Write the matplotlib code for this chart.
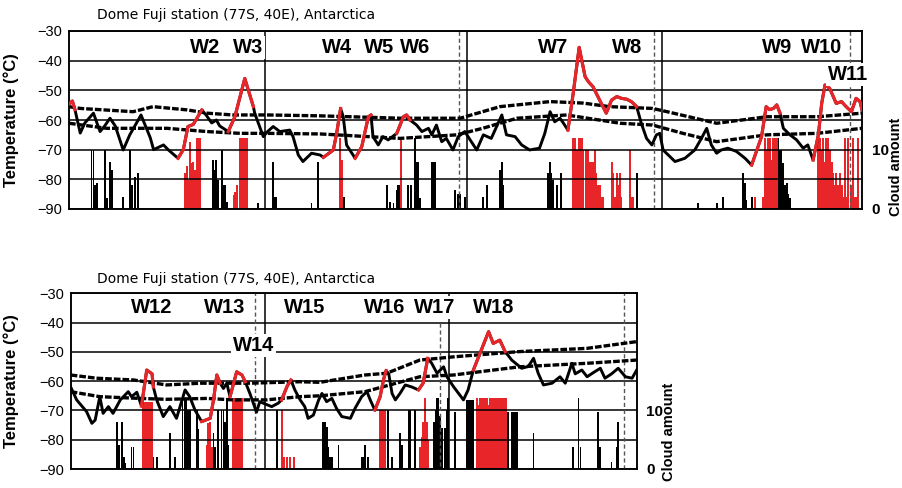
import numpy as np
import matplotlib.pyplot as plt

plt.rcParams['font.family'] = ['Liberation Sans', 'DejaVu Sans']

RED = '#e8262a'

# ---------------- painel superior ----------------
t1_day = [0.0, 0.5, 0.9, 1.7, 2.4, 3.7, 4.7, 5.4, 6.2, 7.0, 8.2, 9.2, 10.9, 12.3, 12.8, 14.3, 15.0,
          16.5, 17.3, 18.0, 18.8, 20.1, 20.8, 21.6, 22.3, 22.8, 24.1, 25.1, 26.6, 27.9, 28.1, 29.4,
          30.0, 30.9, 31.9, 33.4, 33.9, 34.7, 35.4, 36.7, 38.0, 38.5, 40.0, 40.5, 41.1, 41.5, 42.0,
          43.3, 44.3, 45.3, 45.7, 46.0, 46.8, 47.5, 48.3, 49.6, 50.6, 51.1, 51.6, 52.6, 53.4, 54.4,
          54.9, 55.6, 56.4, 57.1, 58.1, 58.9, 59.9, 60.7, 61.7, 62.7, 63.9, 65.5, 66.2, 67.5, 68.5,
          69.7, 71.2, 72.0, 72.8, 73.5, 74.3, 74.8, 75.5, 76.3, 77.2, 78.1, 78.6, 79.3, 80.3, 81.3,
          82.1, 82.9, 83.6, 84.4, 85.1, 85.9, 86.6, 87.4, 88.2, 88.9, 89.4, 89.9, 91.7, 93.2, 94.7,
          95.7, 96.5, 97.2, 98.0, 98.7, 99.7, 101.0, 102.3, 103.3, 104.8, 105.5, 106.0, 106.6, 107.1,
          107.6, 108.1, 109.1, 110.1, 111.1, 111.8, 112.6, 113.4, 113.9, 114.4, 115.1, 116.1, 116.9,
          117.6, 118.4, 119.1, 119.7, 120.0]
t1_temp = [-54.6, -53.6, -56.5, -64.4, -61.0, -57.7, -63.9, -62.0, -59.4, -62.0, -70.1, -65.0, -58.3,
           -66.0, -70.0, -68.4, -70.0, -72.9, -70.0, -62.2, -61.5, -56.6, -58.5, -61.0, -60.0, -62.0,
           -63.9, -58.9, -46.0, -55.5, -57.7, -65.6, -64.0, -62.2, -63.9, -63.4, -65.6, -71.8, -74.0,
           -71.2, -71.8, -72.6, -70.1, -64.5, -56.1, -58.9, -68.4, -72.9, -69.0, -58.9, -58.3, -65.6,
           -68.4, -65.6, -66.7, -64.5, -58.9, -58.3, -60.0, -61.7, -63.9, -62.8, -65.0, -61.7, -67.3,
           -66.2, -70.1, -65.6, -63.9, -66.7, -70.1, -65.0, -66.2, -58.3, -65.0, -65.6, -68.4, -70.1,
           -69.5, -64.5, -57.2, -60.6, -59.4, -61.0, -63.4, -51.0, -35.5, -45.4, -47.1, -48.8, -53.3,
           -57.7, -53.3, -52.1, -52.7, -53.0, -53.8, -55.5, -61.1, -66.2, -68.4, -65.0, -64.5, -70.1,
           -74.0, -72.9, -70.1, -66.2, -62.8, -68.4, -71.2, -70.1, -69.5, -70.6, -72.9, -75.2, -65.6,
           -55.5, -56.5, -56.1, -54.9, -57.7, -62.8, -65.0, -66.7, -69.5, -68.4, -73.5, -65.0, -54.4,
           -48.2, -49.3, -54.4, -53.8, -55.5, -57.2, -52.7, -53.8, -56.6]
red1 = [(0, 0.9), (16.5, 20.1), (24.1, 27.95), (38.5, 41.1), (43.3, 45.7), (49.6, 51.6),
        (75.5, 85.9), (103.3, 107.6), (112.6, 120)]

hi1_day = [0, 1.7, 9.7, 12.7, 17.9, 20.9, 24.8, 30.0, 38.0, 50.1, 59.2, 65.2, 72.8, 77.8, 81.8,
           88.3, 90.5, 98.0, 105.6, 113.2, 120]
hi1_temp = [-55.5, -56.1, -57.2, -55.5, -56.6, -57.7, -58.3, -58.3, -58.6, -59.4, -59.4, -55.5,
            -53.8, -54.3, -55.5, -56.1, -57.2, -61.1, -58.9, -58.9, -57.7]
lo1_day = [0, 5.7, 10.7, 14.8, 20.9, 25.9, 30.0, 38.0, 50.1, 58.7, 62.6, 67.8, 75.3, 83.4, 88.3,
           92.9, 98.0, 105.6, 113.2, 120]
lo1_temp = [-61.1, -62.8, -62.8, -62.8, -63.9, -64.5, -64.5, -64.7, -66.2, -65.0, -62.8, -59.4,
            -58.3, -61.1, -61.7, -64.5, -67.3, -65.0, -64.5, -62.8]

cb1_day = [3.4, 3.7, 3.9, 4.2, 5.4, 5.7, 6.2, 6.5, 8.2, 9.2, 9.5, 10.0, 10.5, 21.8, 22.1, 22.3, 22.6,
           23.1, 23.3, 23.6, 23.9, 28.6, 30.9, 31.2, 31.4, 36.7, 37.7, 41.6, 48.1, 48.6, 49.1, 49.6,
           49.8, 50.1, 51.3, 51.8, 52.3, 52.6, 52.8, 53.1, 54.9, 55.1, 55.4, 58.4, 58.9, 59.2, 59.9,
           62.7, 63.2, 65.2, 65.5, 65.7, 72.5, 72.8, 73.0, 73.3, 73.8, 74.5, 85.9, 95.2, 98.0, 99.0,
           102.0, 102.3, 102.5, 103.3, 107.3, 107.6, 107.8, 108.1, 108.3, 108.6, 108.8, 109.1]
cb1_val = [9.9, 9.9, 4.0, 4.3, 9.9, 1.8, 8.0, 6.6, 2.1, 9.9, 4.0, 5.4, 6.0, 8.3, 6.6, 8.3, 4.9,
           9.9, 4.0, 4.0, 1.2, 1.0, 8.0, 2.1, 2.1, 1.0, 8.0, 2.1, 4.0, 1.2, 1.0, 3.2,
           4.0, 4.0, 4.0, 4.0, 11.9, 8.0, 8.0, 1.8, 8.0, 8.0, 8.0, 3.2, 2.6, 2.6, 2.1,
           2.1, 4.0, 6.6, 8.0, 4.0, 6.0, 8.0, 6.0, 4.9, 4.0, 6.0, 6.0, 1.0, 1.0, 2.1,
           6.0, 4.3, 1.5, 2.1, 11.9, 9.9, 9.9, 7.7, 4.0, 4.3, 2.6, 1.8]
cr1_day = [17.5, 17.8, 18.0, 18.3, 18.6, 18.8, 19.1, 19.3, 19.6, 19.8, 24.9, 25.1, 25.4, 25.9, 26.1,
           26.4, 26.6, 26.9, 27.0, 41.0, 41.3, 50.3, 76.3, 76.6, 76.8, 77.1, 77.3, 77.6, 77.8, 78.3,
           78.6, 78.8, 79.1, 79.3, 79.6, 79.8, 80.1, 80.3, 80.6, 80.8, 82.1, 82.3, 82.6, 82.9, 83.1,
           83.4, 83.6, 84.9, 85.1, 85.4, 103.8, 105.0, 105.3, 105.5, 105.8, 106.1, 106.3, 106.6,
           106.8, 107.1, 113.4, 113.6, 113.9, 114.1, 114.4, 114.6, 114.9, 115.1, 115.4, 115.6, 115.9,
           116.1, 116.4, 116.6, 116.9, 117.1, 117.4, 117.6, 117.9, 118.4, 118.7, 118.9, 119.2, 119.4]
cr1_val = [6.0, 7.2, 4.9, 11.3, 7.7, 8.0, 6.6, 11.9, 11.9, 11.9, 2.4, 2.9, 4.0, 11.9, 11.9,
           11.9, 11.9, 11.9, 4.0, 11.9, 8.3, 11.7, 11.9, 11.9, 9.9, 11.9, 11.9, 11.9, 9.9, 9.9,
           9.9, 8.0, 8.0, 8.0, 9.9, 6.0, 4.0, 4.0, 2.1, 2.1, 8.0, 6.0, 2.1, 6.0, 4.0,
           6.0, 2.1, 9.9, 2.1, 2.1, 2.1, 2.1, 11.9, 9.9, 11.9, 11.9, 8.3, 11.9,
           11.9, 11.9, 11.9, 11.9, 9.9, 11.9, 8.0, 11.9, 11.9, 9.9, 8.0, 6.0, 4.0,
           6.0, 4.0, 6.0, 4.0, 2.1, 11.9, 2.1, 11.9, 4.0, 11.9, 2.1, 2.1, 11.9]

solid1 = [29.65, 60.2, 89.8]
dashed1 = [59.0, 88.5, 118.2]
w1_name = ['W2', 'W3', 'W4', 'W5', 'W6', 'W7', 'W8', 'W9', 'W10', 'W11']
w1_day = [20.6, 27.1, 40.5, 47.0, 52.3, 73.2, 84.4, 107.1, 113.9, 117.9]
w1_temp = [-35.4, -35.4, -35.4, -35.4, -35.4, -35.4, -35.4, -35.4, -35.4, -44.8]

# ---------------- painel inferior ----------------
t2_day = [0.0, 0.9, 2.4, 3.2, 3.7, 4.4, 4.9, 5.7, 6.4, 7.5, 8.7, 9.2, 10.0, 10.7, 11.5, 12.3, 12.5,
          13.0, 14.0, 15.0, 16.0, 17.3, 18.0, 18.8, 19.8, 21.1, 21.6, 22.1, 22.6, 23.1, 23.6, 24.1,
          25.1, 25.9, 26.4, 27.1, 28.1, 28.6, 29.1, 30.4, 31.4, 31.9, 32.7, 33.3, 33.9, 34.7, 35.4,
          35.9, 36.7, 37.5, 38.0, 38.7, 39.5, 40.2, 41.0, 42.3, 43.0, 44.0, 44.8, 45.3, 46.0, 46.8,
          47.3, 47.7, 48.1, 48.6, 49.1, 49.8, 50.6, 51.6, 52.6, 53.3, 54.0, 54.6, 55.4, 56.4, 56.9,
          57.9, 59.4, 60.1, 60.9, 61.9, 63.2, 63.9, 64.9, 65.7, 66.7, 68.2, 69.2, 70.0, 70.7, 71.5,
          72.8, 74.0, 74.8, 75.8, 76.3, 77.3, 78.1, 79.1, 80.1, 80.8, 81.8, 82.8, 83.9, 84.9, 85.6]
t2_temp = [-62.0, -66.4, -70.4, -74.4, -73.3, -65.3, -71.0, -68.7, -71.0, -66.4, -63.6, -65.3, -63.8,
           -68.5, -56.2, -57.5, -62.0, -66.4, -72.1, -68.7, -72.7, -63.0, -65.3, -69.9, -73.8, -72.7,
           -66.4, -57.9, -60.7, -62.5, -60.7, -65.3, -56.8, -57.9, -60.2, -64.2, -70.6, -67.0, -67.5,
           -68.7, -67.5, -66.4, -61.9, -59.6, -63.0, -66.4, -68.7, -72.7, -71.6, -66.4, -64.2, -67.0,
           -65.9, -69.3, -72.1, -72.7, -69.3, -65.3, -63.6, -66.4, -69.9, -65.3, -59.6, -56.4, -57.5,
           -64.2, -66.4, -64.2, -61.3, -62.0, -63.0, -60.7, -52.2, -53.9, -57.3, -55.1, -58.5, -61.9,
           -66.4, -63.0, -56.2, -50.5, -43.1, -47.1, -46.0, -49.9, -52.8, -55.6, -55.0, -52.2, -57.3,
           -61.3, -60.7, -58.5, -60.7, -53.9, -57.5, -56.2, -58.5, -57.0, -55.6, -59.0, -57.5, -55.6,
           -58.5, -59.0, -56.2]
red2 = [(10.7, 12.5), (19.8, 22.6), (24.1, 26.4), (31.9, 33.3), (46.0, 47.7), (52.6, 54.0),
        (60.9, 65.7)]

hi2_day = [0, 3.9, 9.5, 14.5, 19.6, 27.1, 34.7, 37.7, 44.5, 47.8, 52.8, 57.9, 67.9, 78.1, 85.6]
hi2_temp = [-57.9, -59.0, -59.6, -61.3, -60.7, -60.7, -60.2, -60.4, -57.9, -57.3, -52.8, -51.7,
            -49.9, -48.8, -46.5]
lo2_day = [0, 4.4, 10.5, 14.5, 20.6, 24.6, 29.6, 34.7, 37.7, 44.5, 52.8, 57.9, 67.9, 78.1, 85.6]
lo2_temp = [-63.6, -65.3, -65.9, -66.2, -65.9, -66.4, -66.4, -65.3, -65.0, -63.6, -58.5, -57.9,
            -55.1, -53.9, -52.8]

cb2_day = [7.0, 7.3, 7.7, 8.0, 8.2, 9.2, 9.5, 12.4, 13.0, 15.0, 15.8, 16.9, 17.3, 17.5, 17.8, 18.0,
           19.1, 19.3, 21.6, 21.8, 22.3, 22.8, 23.1, 23.3, 23.6, 23.8, 31.2, 38.2, 38.5, 38.7,
           39.0, 39.2, 39.5, 40.5, 44.0, 44.3, 44.5, 45.0, 48.0, 48.6, 49.8, 50.1, 51.1, 51.3, 52.1,
           54.9, 55.2, 55.4, 55.6, 55.9, 56.1, 56.6, 56.9, 57.1, 58.1, 59.9, 60.2, 60.4, 60.7, 60.9,
           66.2, 66.7, 67.0, 67.2, 67.5, 70.0, 76.0, 76.8, 77.1, 79.8, 80.1, 81.8, 82.6, 82.8]
cb2_val = [8.1, 4.1, 8.1, 2.1, 1.0, 3.8, 3.8, 2.0, 2.1, 6.1, 2.1, 12.1, 12.1, 12.1, 10.1, 10.1,
           10.1, 6.8, 6.1, 3.8, 10.1, 10.1, 10.1, 8.1, 12.1, 4.1, 10.1, 8.1, 8.1, 7.2,
           3.8, 2.1, 2.1, 4.1, 2.1, 2.1, 4.1, 2.1, 10.1, 2.1, 6.1, 4.1, 10.1, 10.1, 10.1,
           8.1, 10.1, 12.1, 12.1, 9.0, 7.0, 7.0, 10.1, 12.1, 9.8, 11.8, 11.8, 11.8, 11.8, 11.8,
           9.8, 9.8, 9.8, 9.8, 9.8, 6.1, 3.8, 12.1, 3.8, 9.8, 3.8, 1.2, 3.8, 8.1]
cr2_day = [11.0, 11.2, 11.5, 11.7, 12.0, 12.3, 20.6, 20.8, 21.1, 21.3, 24.6, 24.9, 25.1, 25.4, 25.6,
           25.9, 31.9, 32.2, 32.7, 33.2, 33.7, 46.8, 47.0, 47.3, 47.5, 52.8, 53.1, 53.3, 53.6, 53.9,
           54.1, 61.4, 61.7, 61.9, 62.2, 62.4, 62.7, 62.9, 63.2, 63.4, 63.7, 63.9, 64.2, 64.4, 64.7,
           64.9, 65.2, 65.4, 65.7, 65.9]
cr2_val = [11.5, 11.5, 11.5, 11.5, 11.5, 11.5, 4.1, 7.8, 8.1, 3.8, 12.1, 12.1, 12.1, 12.1, 12.1,
           12.1, 10.1, 2.1, 2.1, 2.1, 2.1, 10.1, 10.1, 10.1, 10.1, 3.8, 5.5, 8.1, 12.1, 8.1,
           5.0, 12.1, 11.0, 12.1, 12.1, 12.1, 12.1, 12.1, 11.0, 12.1, 12.1, 12.1, 12.1, 12.1, 12.1,
           12.1, 12.1, 12.1, 12.1, 12.1]

solid2 = [29.4, 57.2]
dashed2 = [27.9, 83.7]
dashed2_short = [55.9]
w2_name = ['W12', 'W13', 'W15', 'W16', 'W17', 'W18', 'W14']
w2_day = [12.3, 23.3, 35.4, 47.5, 55.1, 63.9, 27.6]
w2_temp = [-35.0, -35.0, -35.0, -35.0, -35.0, -35.0, -47.7]


def painel(ax, xmax, d, t, spans, hd, ht, ld, lt, bd, bv, rd, rv,
           solid, dashed, names, wd, wt, ylab_x):
    d = np.array(d)
    t = np.array(t)
    ax2 = ax.twinx()
    ax.set_zorder(ax2.get_zorder() + 1)
    ax.patch.set_visible(False)

    ax2.bar(bd, bv, width=0.28, color='black', linewidth=0)
    ax2.bar(rd, rv, width=0.3, color=RED, linewidth=0)
    ax2.set_ylim(0, 30)
    ax2.set_yticks([0, 10])
    ax2.tick_params(length=0, pad=7, labelsize=11)
    for lb in ax2.get_yticklabels():
        lb.set_fontweight('bold')

    ax.grid(axis='y', color='black', lw=1.1)
    for x in solid:
        ax.axvline(x, color='black', lw=1.1, zorder=2)
    for x in dashed:
        ax.axvline(x, color='#555555', lw=1.0, ls=(0, (3, 2)), zorder=2)

    ax.plot(hd, ht, color='black', lw=2.4, ls=(0, (2.0, 0.6)), zorder=3)
    ax.plot(ld, lt, color='black', lw=2.4, ls=(0, (2.0, 0.6)), zorder=3)
    ax.plot(d, t, color='black', lw=2.1, zorder=4)
    for a, b in spans:
        m = (d >= a - 1e-6) & (d <= b + 1e-6)
        ax.plot(d[m], t[m], color=RED, lw=2.3, zorder=5)

    for n, x, y in zip(names, wd, wt):
        ax.text(x, y, n, ha='center', va='center', fontsize=14.5, fontweight='bold', zorder=6,
                bbox=dict(facecolor='white', edgecolor='none', pad=1.5))

    ax.set_xlim(0, xmax)
    ax2.set_xlim(0, xmax)
    ax.set_ylim(-90, -30)
    ax.set_yticks(range(-90, -29, 10))
    ax.set_xticks([])
    ax.tick_params(length=0, labelsize=10.5, pad=5)
    ax.set_ylabel('Temperature (°C)', fontsize=12, fontweight='bold')
    ax.yaxis.set_label_coords(ylab_x, 0.5)
    for a in (ax, ax2):
        for s in a.spines.values():
            s.set_linewidth(1.1)
    return ax2


fig = plt.figure(figsize=(9.03, 4.88), dpi=100)

ax_top = fig.add_axes([69 / 903, 1 - 209 / 488, 793 / 903, 178 / 488])
painel(ax_top, 120, t1_day, t1_temp, red1, hi1_day, hi1_temp, lo1_day, lo1_temp,
       cb1_day, cb1_val, cr1_day, cr1_val, solid1, dashed1, w1_name, w1_day, w1_temp, -0.063)

ax_bot = fig.add_axes([70.7 / 903, 1 - 469 / 488, 566 / 903, 175.7 / 488])
painel(ax_bot, 85.6, t2_day, t2_temp, red2, hi2_day, hi2_temp, lo2_day, lo2_temp,
       cb2_day, cb2_val, cr2_day, cr2_val, solid2, dashed2, w2_name, w2_day, w2_temp, -0.091)
for x in dashed2_short:
    ax_bot.plot([x, x], [-40, -90], color='#555555', lw=1.0, ls=(0, (3, 2)), zorder=2)

fig.text(97 / 903, 1 - 15 / 488, 'Dome Fuji station (77S, 40E), Antarctica',
         fontsize=10, family='DejaVu Sans', va='center')
fig.text(97 / 903, 1 - 279 / 488, 'Dome Fuji station (77S, 40E), Antarctica',
         fontsize=10, family='DejaVu Sans', va='center')
fig.text(896 / 903, 1 - 167 / 488, 'Cloud amount', rotation=90, fontsize=10.5,
         fontweight='bold', ha='center', va='center')
fig.text(669 / 903, 1 - 432 / 488, 'Cloud amount', rotation=90, fontsize=10.5,
         fontweight='bold', ha='center', va='center')

fig.savefig('out.png', dpi=100)
